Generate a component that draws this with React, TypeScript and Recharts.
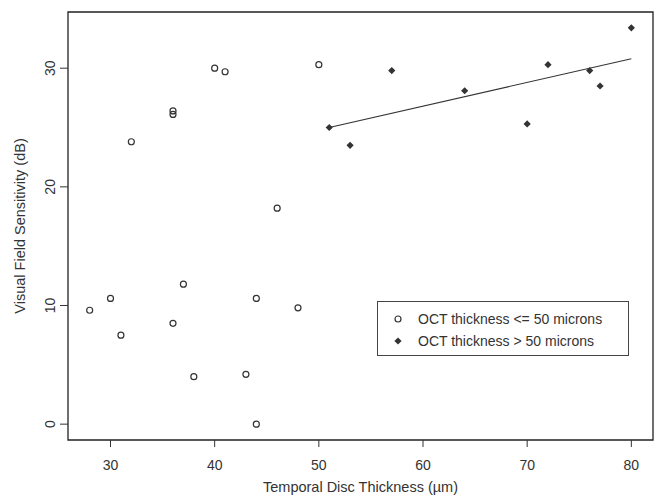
import {
  ScatterChart,
  Scatter,
  XAxis,
  YAxis,
  ReferenceArea,
  ReferenceLine,
  Legend,
} from 'recharts'

// ─── data ────────────────────────────────────────────────────────────────

// OCT thickness <= 50 microns (open circles)
const thinX = [28, 30, 31, 32, 36, 36, 36, 37, 38, 40, 41, 43, 44, 44, 46, 48, 50]
const thinY = [9.6, 10.6, 7.5, 23.8, 26.4, 26.1, 8.5, 11.8, 4.0, 30.0, 29.7, 4.2, 10.6, 0.0, 18.2, 9.8, 30.3]

// OCT thickness > 50 microns (filled diamonds)
const thickX = [51, 53, 57, 64, 70, 72, 76, 77, 80]
const thickY = [25.0, 23.5, 29.8, 28.1, 25.3, 30.3, 29.8, 28.5, 33.4]

// fitted line for the > 50 group
const fitX = [51, 80]
const fitY = [25.0, 30.8]

const xTicks = [30, 40, 50, 60, 70, 80]
const yTicks = [0, 10, 20, 30]

const legendLabels = ['OCT thickness <= 50 microns', 'OCT thickness > 50 microns']

const xTitle = 'Temporal Disc Thickness (µm)'
const yTitle = 'Visual Field Sensitivity (dB)'

// ─── helpers ─────────────────────────────────────────────────────────────

const thinData = thinX.map((x, i) => ({ x, y: thinY[i] }))
const thickData = thickX.map((x, i) => ({ x, y: thickY[i] }))
const fitSegment = fitX.map((x, i) => ({ x, y: fitY[i] }))

// R-style 4% padding around data range
const X_DOMAIN: [number, number] = [25.92, 82.08]
const Y_DOMAIN: [number, number] = [-1.336, 34.736]

const FONT = '"Liberation Sans", Arial, Helvetica, sans-serif'
const INK = '#333'

function OpenCircle(props: any) {
  const { cx, cy } = props
  if (cx == null || cy == null) return null
  return <circle cx={cx} cy={cy} r={3} fill="none" stroke={INK} strokeWidth={1.2} />
}

function Diamond(props: any) {
  const { cx, cy } = props
  if (cx == null || cy == null) return null
  const r = 3.6
  return (
    <polygon
      points={`${cx},${cy - r} ${cx + r},${cy} ${cx},${cy + r} ${cx - r},${cy}`}
      fill={INK}
      stroke="none"
    />
  )
}

function XTick(props: any) {
  const { x, payload } = props
  return (
    <text x={x} y={465} textAnchor="middle" dominantBaseline="central" fontSize={14} fill={INK} fontFamily={FONT}>
      {payload.value}
    </text>
  )
}

function YTick(props: any) {
  const { y, payload } = props
  return (
    <text
      x={50}
      y={y}
      transform={`rotate(-90, 50, ${y})`}
      textAnchor="middle"
      dominantBaseline="central"
      fontSize={14}
      fill={INK}
      fontFamily={FONT}
    >
      {payload.value}
    </text>
  )
}

function LegendBox() {
  return (
    <div
      style={{
        border: '1px solid #444',
        width: 252,
        height: 55,
        boxSizing: 'border-box',
        padding: '6px 0 0 0',
        fontFamily: FONT,
        fontSize: 14,
        color: INK,
        background: '#fff',
      }}
    >
      {legendLabels.map((label, i) => (
        <div key={label} style={{ display: 'flex', alignItems: 'center', height: 22 }}>
          <svg width={40} height={22}>
            {i === 0 ? (
              <circle cx={20} cy={11} r={3} fill="none" stroke={INK} strokeWidth={1.2} />
            ) : (
              <polygon points="20,7.4 23.6,11 20,14.6 16.4,11" fill={INK} />
            )}
          </svg>
          <span>{label}</span>
        </div>
      ))}
    </div>
  )
}

// ─── chart ───────────────────────────────────────────────────────────────

export default function App() {
  return (
    <div style={{ position: 'absolute', left: 0, top: 0, background: '#fff' }}>
      <ScatterChart width={658} height={500} margin={{ top: 12, right: 5, bottom: 0, left: 0 }}>
        <XAxis
          type="number"
          dataKey="x"
          domain={X_DOMAIN}
          ticks={xTicks}
          allowDataOverflow
          height={60}
          axisLine={false}
          tickLine={{ stroke: INK }}
          tickSize={7}
          tick={<XTick />}
          label={{
            value: xTitle,
            position: 'insideBottom',
            offset: 8,
            fontSize: 14.5,
            fill: INK,
            fontFamily: FONT,
          }}
        />
        <YAxis
          type="number"
          dataKey="y"
          domain={Y_DOMAIN}
          ticks={yTicks}
          allowDataOverflow
          width={68}
          axisLine={false}
          tickLine={{ stroke: INK }}
          tickSize={8}
          tick={<YTick />}
          label={{
            value: yTitle,
            angle: -90,
            position: 'insideLeft',
            offset: 20,
            style: { textAnchor: 'middle' },
            fontSize: 14.5,
            fill: INK,
            fontFamily: FONT,
          }}
        />
        <ReferenceArea
          x1={X_DOMAIN[0]}
          x2={X_DOMAIN[1]}
          y1={Y_DOMAIN[0]}
          y2={Y_DOMAIN[1]}
          fill="none"
          stroke="#222"
          strokeWidth={1.3}
          ifOverflow="visible"
        />
        <ReferenceLine segment={fitSegment} stroke={INK} strokeWidth={1.1} ifOverflow="visible" />
        <Scatter data={thinData} shape={<OpenCircle />} isAnimationActive={false} />
        <Scatter data={thickData} shape={<Diamond />} isAnimationActive={false} />
        <Legend
          layout="vertical"
          align="center"
          verticalAlign="middle"
          content={<LegendBox />}
          wrapperStyle={{ left: 377, top: 301, width: 252, height: 55 }}
        />
      </ScatterChart>
    </div>
  )
}
